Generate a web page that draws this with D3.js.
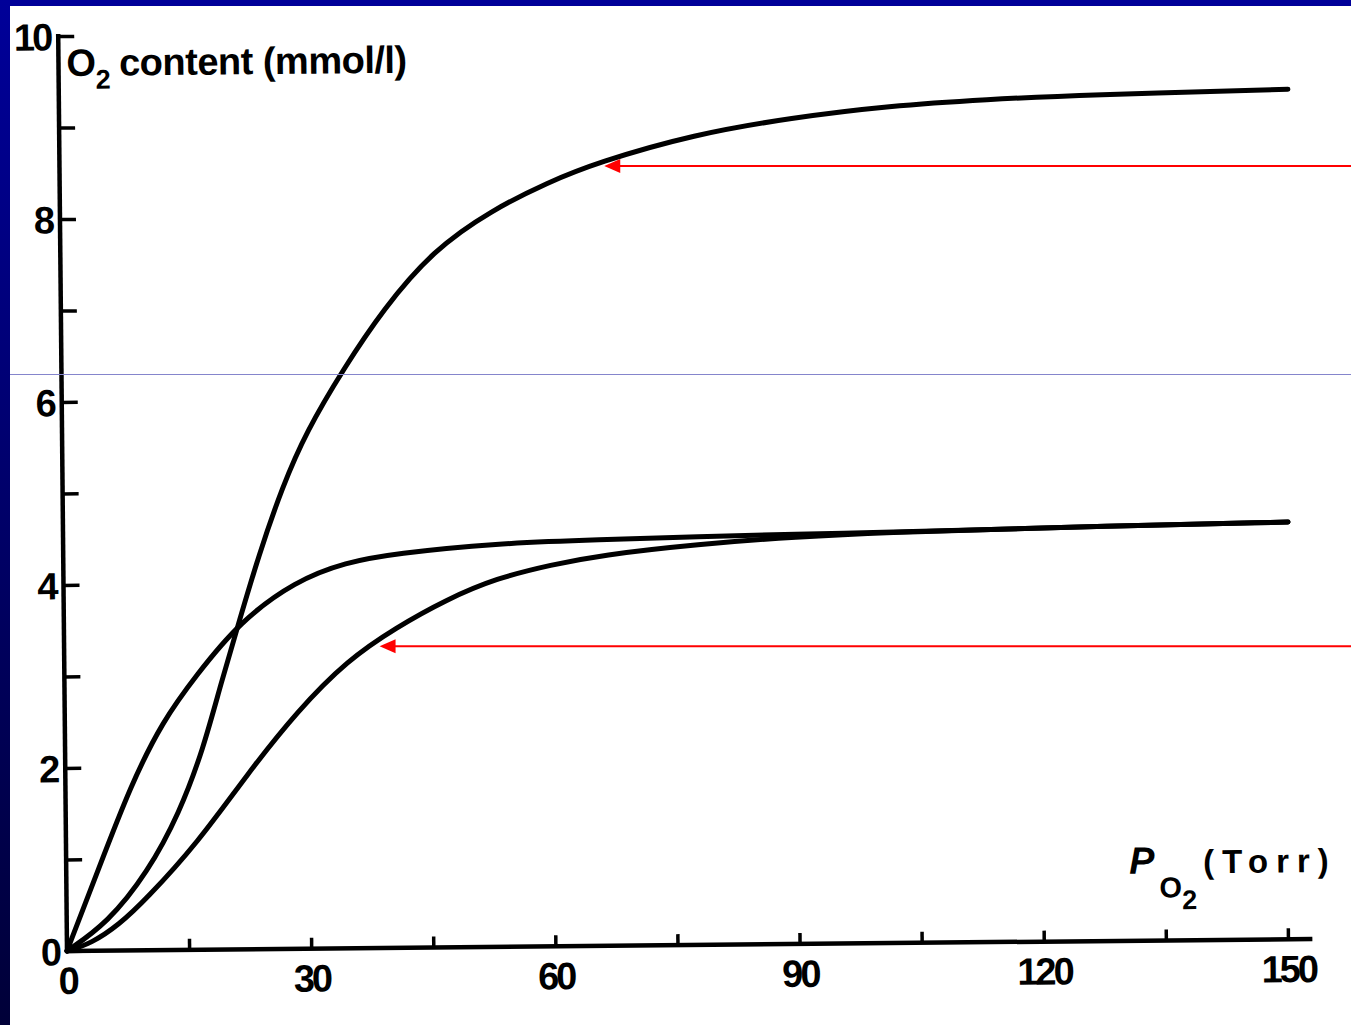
<!DOCTYPE html>
<html><head><meta charset="utf-8">
<script src="https://cdn.jsdelivr.net/npm/d3@7"></script>
<style>body{margin:0;background:#fff}svg{display:block}</style>
</head><body><svg id="c" width="1351" height="1025"></svg>
<script>
// ---- data ----
const xTickValues = [0,15,30,45,60,75,90,105,120,135,150];
const xLabelValues = [0,30,60,90,120,150];
const yMajorTicks = [0,2,4,6,8,10];
const yMinorTicks = [1,3,5,7,9];

// upper sigmoid curve
const curveA_P  = [0,5,10,14,17,19.2,21.6,24,27,30,34.7,39.6,45.8,53,60,66,78,90,102,114,126,151];
const curveA_O2 = [0,0.3,0.85,1.5,2.2,2.9,3.6,4.3,5.05,5.65,6.34,6.98,7.62,8.05,8.35,8.56,8.86,9.03,9.15,9.21,9.25,9.29];
// hyperbolic curve
const curveB_P  = [0,4,8,12,16.2,21.6,28.5,34.7,40.8,53,66,78,90,102,114,126,150.5];
const curveB_O2 = [0,0.9,1.8,2.5,3.0,3.58,4.02,4.22,4.31,4.41,4.44,4.46,4.48,4.49,4.51,4.53,4.56];
// lower sigmoid curve
const curveC_P  = [0,3,6.4,9.7,16.2,22.4,28.6,34.8,40.8,47,53.2,60,66,78,90,102,114,126,150.5];
const curveC_O2 = [0,0.08,0.28,0.55,1.17,1.92,2.6,3.15,3.5,3.8,4.03,4.17,4.27,4.38,4.45,4.49,4.51,4.53,4.56];

// red arrows (screen-horizontal) : tip position
const arrowP  = [66, 38.4];
const arrowO2 = [8.58, 3.33];

// ---- drawing ----
const W = 1351, H = 1025;
const svg = d3.select("#c");
const x = d3.scaleLinear().domain([0,150]).range([67,1288]);
const y = d3.scaleLinear().domain([0,10]).range([951,36]);

svg.append("rect").attr("width",W).attr("height",H).attr("fill","#fff");

const defs = svg.append("defs");
const grad = defs.append("linearGradient").attr("id","lb").attr("x1",0).attr("y1",0).attr("x2",0).attr("y2",1);
grad.append("stop").attr("offset","0%").attr("stop-color","#000099");
grad.append("stop").attr("offset","100%").attr("stop-color","#000038");

const font = "'Liberation Sans', Arial, sans-serif";

const g = svg.append("g").attr("transform", `rotate(-0.55, ${x(0)}, ${y(0)})`);

// x axis
const xAxis = d3.axisBottom(x).tickValues(xTickValues).tickSizeInner(-11).tickSizeOuter(0).tickPadding(16)
  .tickFormat(d => xLabelValues.includes(d) ? String(d) : "");
const gx = g.append("g").attr("transform", `translate(0,${y(0)})`).call(xAxis);
gx.select(".domain").remove();
gx.append("line").attr("x1", x(0)).attr("x2", x(153)).attr("y1",0).attr("y2",0)
  .attr("stroke","#000").attr("stroke-width",4.5);
gx.selectAll(".tick line").attr("stroke","#000").attr("stroke-width",3.5);
gx.selectAll(".tick text").attr("fill","#000").attr("font-family",font).attr("font-weight","bold")
  .attr("font-size",38).attr("letter-spacing",-3).attr("dy","0.71em");

// y axis
const yAxis = d3.axisLeft(y).tickValues(yMajorTicks).tickSizeInner(-16).tickSizeOuter(0).tickPadding(8)
  .tickFormat(d3.format("d"));
const gy = g.append("g").attr("transform", `translate(${x(0)},0)`).call(yAxis);
gy.select(".domain").remove();
gy.append("line").attr("x1",0).attr("x2",0).attr("y1",y(0)).attr("y2",y(10)-2)
  .attr("stroke","#000").attr("stroke-width",4.5);
gy.selectAll(".tick line").attr("stroke","#000").attr("stroke-width",3.5);
gy.selectAll(".tick text").attr("fill","#000").attr("font-family",font).attr("font-weight","bold")
  .attr("font-size",38).attr("letter-spacing",-3).attr("dy","0.36em");
const yMinor = d3.axisLeft(y).tickValues(yMinorTicks).tickSizeInner(-16).tickSizeOuter(0).tickFormat("");
const gy2 = g.append("g").attr("transform", `translate(${x(0)},0)`).call(yMinor);
gy2.select(".domain").remove();
gy2.selectAll(".tick line").attr("stroke","#000").attr("stroke-width",3.5);

// curves
const line = d3.line().x(d => x(d[0])).y(d => y(d[1])).curve(d3.curveBasis);
[[curveA_P,curveA_O2],[curveB_P,curveB_O2],[curveC_P,curveC_O2]].forEach(([ps,vs]) => {
  g.append("path").datum(ps.map((p,i)=>[p,vs[i]])).attr("d",line)
    .attr("fill","none").attr("stroke","#000").attr("stroke-width",5).attr("stroke-linecap","round")
    .attr("stroke-linejoin","round");
});

// axis titles
const yt = g.append("text").attr("x", 75).attr("y", 76).attr("font-family",font).attr("font-weight","bold")
  .attr("font-size",38).attr("letter-spacing",-0.5).attr("fill","#000");
yt.append("tspan").text("O");
yt.append("tspan").attr("font-size",27).attr("dy",13).text("2");
yt.append("tspan").attr("dy",-13).attr("dx",9).text("content (mmol/l)");

const xt = g.append("text").attr("x", 1130).attr("y", 884).attr("font-family",font).attr("font-weight","bold")
  .attr("font-size",38).attr("fill","#000");
xt.append("tspan").attr("font-style","italic").text("P");
xt.append("tspan").attr("font-size",29).attr("x",1160).attr("dy",24).text("O");
xt.append("tspan").attr("font-size",27).attr("dy",12).text("2");
xt.append("tspan").attr("x",1204).attr("dy",-36).attr("font-size",33).attr("letter-spacing",8).text("(Torr)");

// slide overlays: blue line, red arrows, border
svg.append("line").attr("x1",0).attr("x2",W).attr("y1",374.5).attr("y2",374.5)
  .attr("stroke","#8585cc").attr("stroke-width",1.2);

arrowP.forEach((p,i) => {
  const tx = x(p), ty = y(arrowO2[i]);
  svg.append("line").attr("x1",tx+14).attr("x2",W).attr("y1",ty).attr("y2",ty)
    .attr("stroke","#ff0000").attr("stroke-width",2);
  svg.append("path").attr("d",`M${tx},${ty} L${tx+16},${ty-7} L${tx+16},${ty+7} Z`).attr("fill","#ff0000");
});

svg.append("rect").attr("x",0).attr("y",0).attr("width",W).attr("height",6).attr("fill","#000099");
svg.append("rect").attr("x",0).attr("y",0).attr("width",10).attr("height",H).attr("fill","url(#lb)");
</script></body></html>
